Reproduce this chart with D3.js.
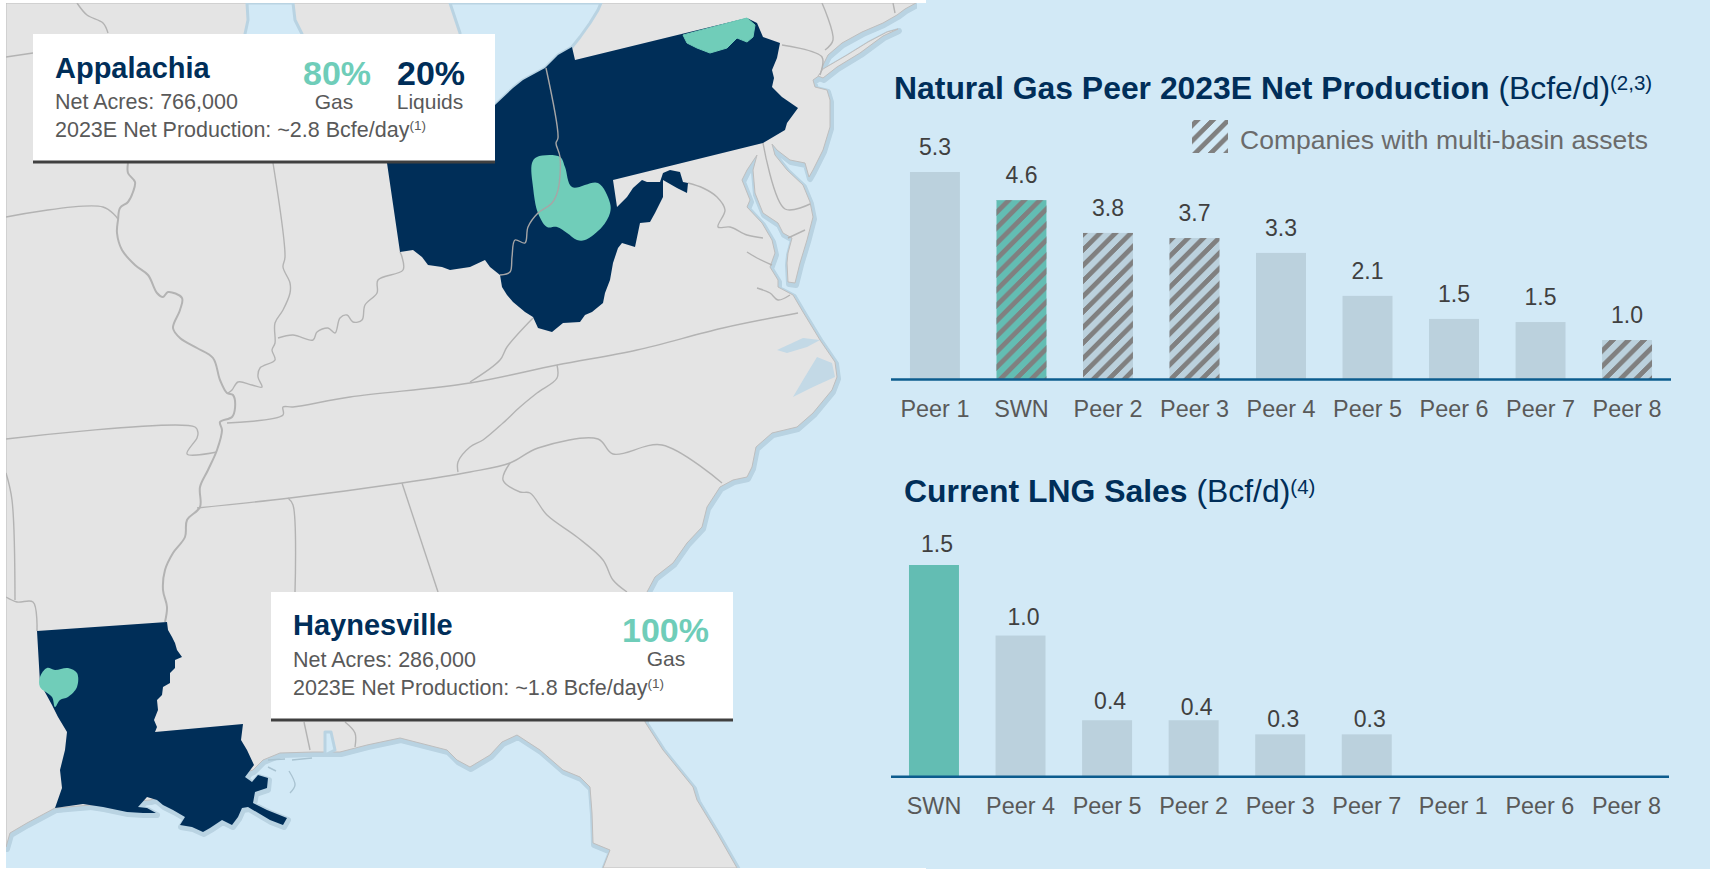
<!DOCTYPE html>
<html>
<head>
<meta charset="utf-8">
<script src="https://cdn.jsdelivr.net/npm/d3@7/dist/d3.min.js"></script>
<style>
html,body{margin:0;padding:0;background:#fff}
svg{display:block}
text{font-family:"Liberation Sans",Arial,sans-serif}
</style>
</head>
<body>
<svg id="chart" width="1710" height="869"></svg>
<script>
// ---------- chart data ----------
const prodCategories = ["Peer 1","SWN","Peer 2","Peer 3","Peer 4","Peer 5","Peer 6","Peer 7","Peer 8"];
const prodValues     = [5.31,4.59,3.75,3.62,3.24,2.14,1.55,1.47,1.01];
const prodLabels     = ["5.3","4.6","3.8","3.7","3.3","2.1","1.5","1.5","1.0"];
const prodMultiBasin = ["SWN","Peer 2","Peer 3","Peer 8"];

const lngCategories  = ["SWN","Peer 4","Peer 5","Peer 2","Peer 3","Peer 7","Peer 1","Peer 6","Peer 8"];
const lngValues      = [1.5,1.0,0.4,0.4,0.3,0.3,0,0,0];
const lngLabels      = ["1.5","1.0","0.4","0.4","0.3","0.3","","",""];
const lngLabelLift   = [21,19,19,13.5,15,15,0,0,0];

// ---------- map outlines ----------
const landOutline = [[6,3],[916,3],[905,9],[897,15],[883,23],[862,32],[842,43],[828,55],[823,65],[820,75],[813,80],[815,87],[827,90],[830,100],[830,127],[823,150],[813,170],[809,177],[805,163],[790,160],[777,150],[772,144],[775,155],[787,170],[803,185],[810,202],[813,217],[807,240],[800,263],[795,283],[788,282],[787,263],[788,253],[792,238],[783,233],[778,223],[763,213],[755,193],[753,170],[757,155],[747,170],[742,180],[750,200],[747,207],[762,223],[772,240],[775,253],[770,267],[778,280],[778,287],[793,295],[803,312],[820,340],[835,362],[837,377],[832,390],[813,413],[797,427],[772,433],[756,447],[752,467],[747,477],[733,480],[720,487],[707,507],[702,527],[687,543],[673,563],[655,577],[647,592],[645,722],[663,750],[693,787],[697,800],[717,833],[737,868],[603,868],[610,850],[593,843],[592,813],[590,787],[580,777],[563,770],[540,750],[517,735],[502,742],[490,755],[470,767],[457,760],[447,750],[400,738],[367,745],[340,752],[313,752],[280,753],[263,760],[253,770],[150,800],[55,808],[27,823],[10,833],[6,847]];
const longIsland = [[898,29],[883,36],[860,53],[837,67],[823,78],[818,76],[823,69],[847,55],[868,42],[887,32]];
const lakeMichigan = [[247,3],[293,3],[295,20],[302,34],[305,60],[245,60],[245,34],[248,20]];
const lakeErie = [[450,3],[601,3],[598,10],[590,23],[580,37],[572,47],[558,55],[545,68],[523,80],[513,88],[495,105],[480,115],[460,120],[460,33]];
const mobileBay = [[325,732],[331,732],[335,750],[325,755]];
const sounds = [
  [[817,357],[832,363],[835,377],[813,387],[793,397],[803,380]],
  [[777,350],[803,338],[820,340],[807,347],[787,353]]
];
const barrierIslands = [[[268,760],[285,759]],[[292,760],[312,758]],[[289,771],[295,785],[290,793]],[[268,767],[276,771]]];
const marcellusStates = [[572,47],[575,60],[747,18],[757,23],[763,37],[780,43],[777,58],[772,70],[774,78],[772,87],[782,97],[798,108],[787,123],[785,130],[763,143],[613,180],[617,207],[627,197],[633,188],[642,180],[647,182],[660,182],[663,173],[670,170],[680,172],[683,182],[688,183],[687,193],[677,188],[663,180],[663,197],[655,213],[650,222],[640,223],[635,247],[622,243],[618,248],[613,263],[610,280],[605,293],[603,303],[592,312],[585,315],[580,322],[563,323],[552,332],[538,328],[533,317],[525,312],[513,302],[507,295],[502,287],[500,275],[490,267],[485,260],[470,267],[450,270],[442,267],[428,265],[422,257],[413,250],[400,252],[387,163],[387,120],[495,105],[513,88],[523,80],[545,68],[558,55]];
const haynesvilleState = [[37,631],[167,622],[168,630],[172,637],[175,643],[177,650],[182,657],[175,660],[175,668],[170,673],[170,683],[163,687],[162,695],[157,700],[158,710],[154,720],[157,727],[155,732],[243,724],[241,740],[247,750],[254,765],[245,777],[252,782],[258,775],[268,778],[267,788],[255,792],[253,803],[267,810],[287,818],[283,825],[270,820],[248,807],[242,808],[238,817],[232,825],[222,820],[210,828],[203,832],[192,827],[180,825],[185,817],[173,810],[163,805],[157,800],[147,797],[138,807],[147,808],[156,813],[143,813],[127,812],[103,807],[83,804],[55,808],[62,788],[60,770],[65,750],[67,732],[58,717],[52,705],[40,683]];
const marcellusWest = [[532,163],[537,157],[560,157],[565,167],[572,187],[598,183],[610,203],[610,213],[602,227],[585,240],[577,240],[567,233],[557,227],[547,227],[538,213],[533,187]];
const marcellusEast = [[683,35],[747,18],[755,25],[753,37],[747,42],[737,38],[727,48],[710,53],[697,48],[687,43]];
const haynesvilleArea = [[40,677],[47,668],[55,670],[68,668],[77,673],[77,687],[68,697],[60,700],[55,707],[52,697],[40,687]];

const stateBorders = [
  [[77,3],[87,15],[103,23],[108,33]],
  [[6,57],[33,53]],
  [[128,163],[128,173],[135,182],[133,192],[128,202],[120,208],[118,220],[117,233],[122,250],[135,265],[148,275],[157,293],[163,297],[168,292],[182,298],[180,310],[173,328],[180,338],[197,348],[213,358],[220,380],[227,393],[233,395],[235,408],[232,417],[220,422],[222,430],[217,450],[208,470],[200,487],[200,507],[187,520],[185,537],[173,553],[165,570],[163,590],[167,607],[165,622]],
  [[6,217],[103,207],[118,219]],
  [[6,439],[195,427],[198,433],[197,438],[187,454],[217,452]],
  [[273,163],[285,257],[283,267],[290,283],[290,293],[283,310],[275,323],[275,343],[272,350],[275,360],[260,368],[258,377],[262,387],[252,385],[238,382],[232,390],[228,393]],
  [[278,338],[293,335],[313,340],[317,332],[328,328],[335,333],[340,318],[347,315],[353,322],[362,320],[365,305],[377,293],[378,280],[403,270],[402,257],[400,252]],
  [[227,423],[283,415],[283,407],[293,407],[350,397],[470,383],[557,365],[637,350],[723,328],[798,313]],
  [[533,318],[507,347],[500,360],[470,382]],
  [[557,365],[557,378],[537,393],[520,407],[503,423],[483,440],[470,447],[458,462],[458,472]],
  [[197,508],[290,498],[402,483],[470,472],[510,463],[538,448],[598,439],[613,454],[662,445],[722,483]],
  [[510,463],[503,480],[520,492],[530,493],[547,515],[577,537],[603,560],[613,580],[627,592]],
  [[288,498],[293,505],[295,592]],
  [[304,722],[310,750]],
  [[402,483],[438,592]],
  [[345,722],[355,733],[355,747]],
  [[6,597],[17,602],[33,602],[37,631]],
  [[6,473],[12,500],[15,600]],
  [[688,183],[703,188],[717,197],[725,210],[718,227],[730,227],[747,235],[763,238]],
  [[763,143],[785,209],[810,204]],
  [[788,238],[805,230]],
  [[782,45],[822,57],[820,75]],
  [[822,3],[833,40],[825,50]],
  [[893,3],[895,13]],
  [[747,252],[757,258],[772,265]],
  [[757,288],[770,293],[778,300],[790,295]]
];
const overNavyBorder = [[546,68],[558,138],[556,143],[560,157],[558,190],[552,203],[538,213],[528,227],[525,243],[515,240],[512,257],[510,272],[500,275]];

// ---------- colours ----------
const WATER="#D2E9F6", LAND="#E4E4E4", SHADOW="#B9D3E2", BORDER="#B3B3B3",
      NAVY="#002E59", TEAL="#6FCDB9", BAR="#BBD1DD", SWN="#63BDB3", HATCH="#808080",
      AXIS="#0C5C8E", GREY="#595959", DARK="#404040";

const svg = d3.select("#chart");
const defs = svg.append("defs");
defs.append("filter").attr("id","soft").attr("x",0).attr("y",0).attr("width","100%").attr("height","100%")
  .append("feGaussianBlur").attr("stdDeviation",0.6);
defs.append("clipPath").attr("id","mapClip").append("rect").attr("x",6).attr("y",3).attr("width",1704).attr("height",865);
const pat = defs.append("pattern").attr("id","hatch").attr("patternUnits","userSpaceOnUse")
  .attr("width",15.5).attr("height",15.5);
pat.append("path").attr("d","M-4,4L4,-4M0,15.5L15.5,0M11.5,19.5L19.5,11.5")
  .attr("stroke",HATCH).attr("stroke-width",4.2).attr("shape-rendering","crispEdges");

// background
svg.append("rect").attr("width",1710).attr("height",869).attr("fill","#fff");
svg.append("rect").attr("x",6).attr("y",3).attr("width",1704).attr("height",865).attr("fill",WATER);
svg.append("rect").attr("x",926).attr("y",0).attr("width",784).attr("height",869).attr("fill",WATER);

// ---------- map ----------
const ring = d3.line().curve(d3.curveLinearClosed);
const open = d3.line();
const wavy = d3.line().curve(d3.curveCatmullRom.alpha(0.5));
const blob = d3.line().curve(d3.curveCatmullRomClosed.alpha(0.5));
const map = svg.append("g").attr("clip-path","url(#mapClip)").append("g").attr("filter","url(#soft)");
[landOutline,longIsland,haynesvilleState].forEach(p=>{
  map.append("path").attr("d",ring(p)).attr("transform","translate(1,2)").attr("fill",SHADOW)
    .attr("stroke",SHADOW).attr("stroke-width",6).attr("stroke-linejoin","round");
});
map.append("path").attr("d",ring(landOutline)).attr("fill",LAND).attr("stroke","#BEBEBE").attr("stroke-width",1).attr("stroke-linejoin","round");
map.append("path").attr("d",ring(longIsland)).attr("fill",LAND).attr("stroke","#BEBEBE").attr("stroke-width",1);
map.selectAll("path.sound").data(sounds).join("path").attr("class","sound").attr("d",ring).attr("fill","#C3D9E6");
[lakeMichigan,lakeErie,mobileBay].forEach(p=>{
  map.append("path").attr("d",ring(p)).attr("fill",WATER).attr("stroke",SHADOW).attr("stroke-width",3).attr("stroke-linejoin","round");
});
map.selectAll("path.island").data(barrierIslands).join("path").attr("class","island").attr("d",wavy)
  .attr("fill","none").attr("stroke","#A9C3D1").attr("stroke-width",1.4);
map.selectAll("path.border").data(stateBorders).join("path").attr("class","border").attr("d",wavy)
  .attr("fill","none").attr("stroke",BORDER).attr("stroke-width",(d,i)=>i===2?2:1.4).attr("stroke-linejoin","round");
map.append("path").attr("d",ring(marcellusStates)).attr("fill",NAVY);
map.append("path").attr("d",ring(haynesvilleState)).attr("fill",NAVY);
map.append("path").attr("d",ring(marcellusEast)).attr("fill",TEAL).attr("stroke",TEAL).attr("stroke-width",1).attr("stroke-linejoin","round");
map.append("path").attr("d",blob(marcellusWest)).attr("fill",TEAL);
map.append("path").attr("d",blob(haynesvilleArea)).attr("fill",TEAL);
map.append("path").attr("d",wavy(overNavyBorder)).attr("fill","none").attr("stroke","#A6A6A6").attr("stroke-width",1.4);

// ---------- call-out boxes ----------
function callout(b){
  const g = svg.append("g");
  g.append("rect").attr("x",b.x).attr("y",b.y).attr("width",b.w).attr("height",b.h).attr("fill","#fff");
  g.append("rect").attr("x",b.x).attr("y",b.y+b.h-1.5).attr("width",b.w).attr("height",3).attr("fill",DARK);
  g.append("text").attr("x",b.tx).attr("y",b.ty).attr("font-size",29).attr("font-weight","700").attr("fill",NAVY).text(b.name);
  g.append("text").attr("x",b.tx).attr("y",b.y+75).attr("font-size",21.5).attr("fill",GREY).text(b.acres);
  const t = g.append("text").attr("x",b.tx).attr("y",b.y+103).attr("font-size",21.5).attr("fill",GREY);
  t.append("tspan").text(b.prod);
  t.append("tspan").attr("font-size",13.5).attr("dy",-7).text("(1)");
  b.pcts.forEach(p=>{
    g.append("text").attr("x",p.x).attr("y",b.y+p.py).attr("text-anchor","middle").attr("font-size",34).attr("font-weight","700").attr("fill",p.c).text(p.v);
    g.append("text").attr("x",p.lx).attr("y",b.y+p.ly).attr("text-anchor","middle").attr("font-size",21).attr("fill",GREY).text(p.l);
  });
}
callout({x:33,y:34,w:462,h:128,tx:55,ty:78,name:"Appalachia",acres:"Net Acres: 766,000",prod:"2023E Net Production: ~2.8 Bcfe/day",
  pcts:[{x:337,lx:334,py:51,ly:75,v:"80%",l:"Gas",c:TEAL},{x:431,lx:430,py:51,ly:75,v:"20%",l:"Liquids",c:NAVY}]});
callout({x:271,y:592,w:462,h:128,tx:293,ty:635,name:"Haynesville",acres:"Net Acres: 286,000",prod:"2023E Net Production: ~1.8 Bcfe/day",
  pcts:[{x:665.5,lx:666,py:50,ly:74,v:"100%",l:"Gas",c:TEAL}]});

// ---------- bar charts ----------
function title(x,y,bold,unit,sup,supY){
  const t = svg.append("text").attr("x",x).attr("y",y).attr("font-size",31.9).attr("fill",NAVY);
  t.append("tspan").attr("font-weight","700").text(bold+" ");
  t.append("tspan").text(unit);
  t.append("tspan").attr("font-size",20.5).attr("dy",supY).text(sup);
}
function barChart(o){
  const x = d3.scaleBand().domain(o.cats).range(o.xr).paddingInner(0.4226).paddingOuter(0.2113);
  const y = d3.scaleLinear().domain([0,o.max]).range([o.base,o.top]);
  const rows = o.cats.map((c,i)=>({c,v:o.vals[i],l:o.labs[i],lift:o.lift(i)}));
  const g = svg.append("g");
  g.selectAll("rect.bar").data(rows).join("rect").attr("class","bar")
    .attr("x",d=>x(d.c)).attr("width",x.bandwidth()).attr("y",d=>y(d.v)).attr("height",d=>y(0)-y(d.v))
    .attr("fill",d=>d.c==="SWN"?SWN:BAR);
  g.selectAll("rect.hatch").data(rows.filter(d=>o.hatched.includes(d.c))).join("rect").attr("class","hatch")
    .attr("x",d=>x(d.c)).attr("width",x.bandwidth()).attr("y",d=>y(d.v)).attr("height",d=>y(0)-y(d.v))
    .attr("fill","url(#hatch)");
  g.selectAll("text.val").data(rows.filter(d=>d.l)).join("text").attr("class","val")
    .attr("x",d=>x(d.c)+x.bandwidth()/2+o.lx).attr("y",d=>y(d.v)-d.lift+8)
    .attr("text-anchor","middle").attr("font-size",23).attr("fill",DARK).text(d=>d.l);
  const ax = g.append("g").attr("transform",`translate(0,${o.base})`)
    .call(d3.axisBottom(x).tickSize(0).tickPadding(o.pad));
  ax.select(".domain").attr("stroke",AXIS).attr("stroke-width",2.4).attr("d",`M${o.axis[0]},0H${o.axis[1]}`);
  ax.selectAll("text").attr("font-size",23.4).attr("fill",GREY).attr("font-family",'"Liberation Sans",Arial,sans-serif');
}
title(894,99,"Natural Gas Peer 2023E Net Production","(Bcfe/d)","(2,3)",-9);
barChart({cats:prodCategories,vals:prodValues,labs:prodLabels,hatched:prodMultiBasin,lift:()=>25,lx:0,
  xr:[891.7,1670.3],max:5.31,base:379.5,top:172,pad:21,axis:[891,1671]});
title(904,502,"Current LNG Sales","(Bcf/d)","(4)",-8);
barChart({cats:lngCategories,vals:lngValues,labs:lngLabels,hatched:[],lift:i=>lngLabelLift[i],lx:3,
  xr:[890.7,1669.7],max:1.5,base:776.7,top:565,pad:21,axis:[891,1669]});

// legend
svg.append("rect").attr("x",1192).attr("y",120).attr("width",36).attr("height",33).attr("fill","url(#hatch)");
svg.append("text").attr("x",1240).attr("y",149).attr("font-size",26.5).attr("fill","#6B6B6B").text("Companies with multi-basin assets");
</script>
</body>
</html>
